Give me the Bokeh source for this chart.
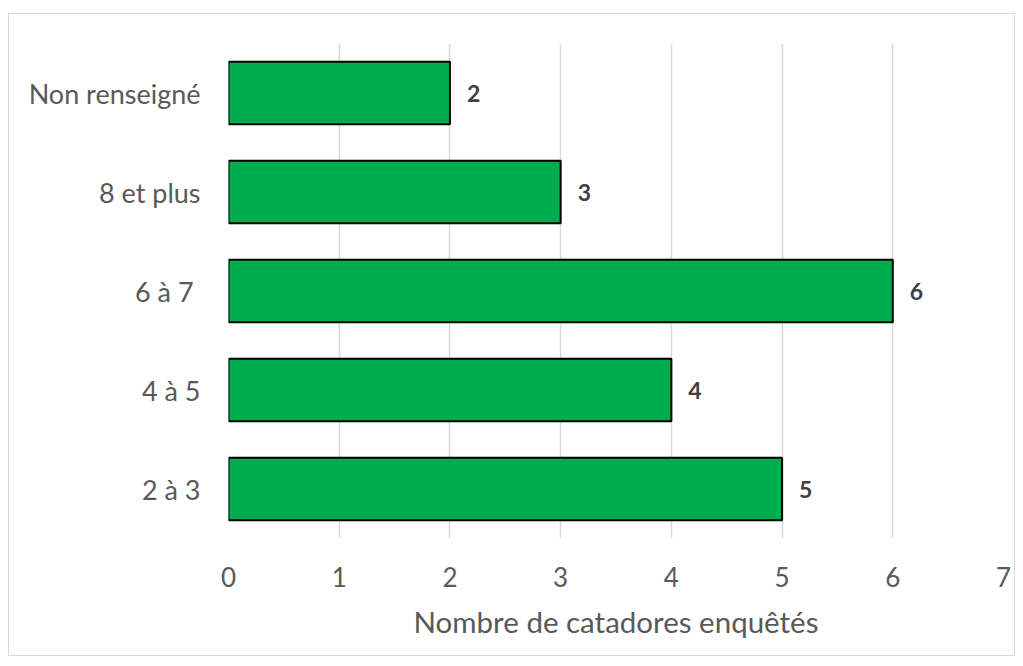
from bokeh.plotting import figure
from bokeh.models import ColumnDataSource, LabelSet, FixedTicker, FactorRange
from bokeh.core.properties import value
from bokeh.embed import file_html
from bokeh.resources import INLINE

categories = ["2 à 3", "4 à 5", "6 à 7 ", "8 et plus", "Non renseigné"]
values = [5, 4, 6, 3, 2]
x_ticks = [0, 1, 2, 3, 4, 5, 6, 7]
x_title = "Nombre de catadores enquêtés"

FONT = "Lato"
TXT = "#595959"

src = ColumnDataSource(dict(cat=categories, val=values, lab=[str(v) for v in values]))

p = figure(width=1007, height=643, output_backend="svg", toolbar_location=None,
           y_range=FactorRange(factors=categories, range_padding=0),
           x_range=(0, 7),
           min_border_left=219, min_border_right=13, min_border_top=29, min_border_bottom=119,
           styles={"border": "1px solid #D9D9D9", "margin": "13px 0px 0px 8px"})

p.hbar(y="cat", right="val", left=0, height=0.63, source=src,
       fill_color="#00AD4E", line_color="black", line_width=2)

labels = LabelSet(x="val", y="cat", text="lab", source=src, x_offset=17,
                  text_baseline="middle", text_align="left",
                  text_font=value(FONT), text_font_style="bold", text_font_size="23px",
                  text_color="#404040")
p.add_layout(labels)

p.outline_line_color = None
p.ygrid.grid_line_color = None
p.xgrid.grid_line_color = "#D9D9D9"
p.xgrid.grid_line_width = 1.5
p.xaxis.ticker = FixedTicker(ticks=x_ticks)
p.xaxis.axis_line_color = None
p.xaxis.major_tick_line_color = None
p.xaxis.minor_tick_line_color = None
p.xaxis.major_tick_out = 0
p.xaxis.major_tick_in = 0
p.xaxis.major_label_standoff = 28
p.xaxis.major_label_text_font = FONT
p.xaxis.major_label_text_font_size = "26px"
p.xaxis.major_label_text_color = TXT
p.xaxis.axis_label = x_title
p.xaxis.axis_label_text_font = FONT
p.xaxis.axis_label_text_font_size = "29.5px"
p.xaxis.axis_label_text_font_style = "normal"
p.xaxis.axis_label_text_color = TXT
p.xaxis.axis_label_standoff = 14

p.yaxis.axis_line_color = None
p.yaxis.major_tick_line_color = None
p.yaxis.major_tick_out = 0
p.yaxis.major_tick_in = 0
p.yaxis.major_label_standoff = 28
p.yaxis.major_label_text_font = FONT
p.yaxis.major_label_text_font_size = "27px"
p.yaxis.major_label_text_color = TXT

open("out.html", "w").write(file_html(p, INLINE))
